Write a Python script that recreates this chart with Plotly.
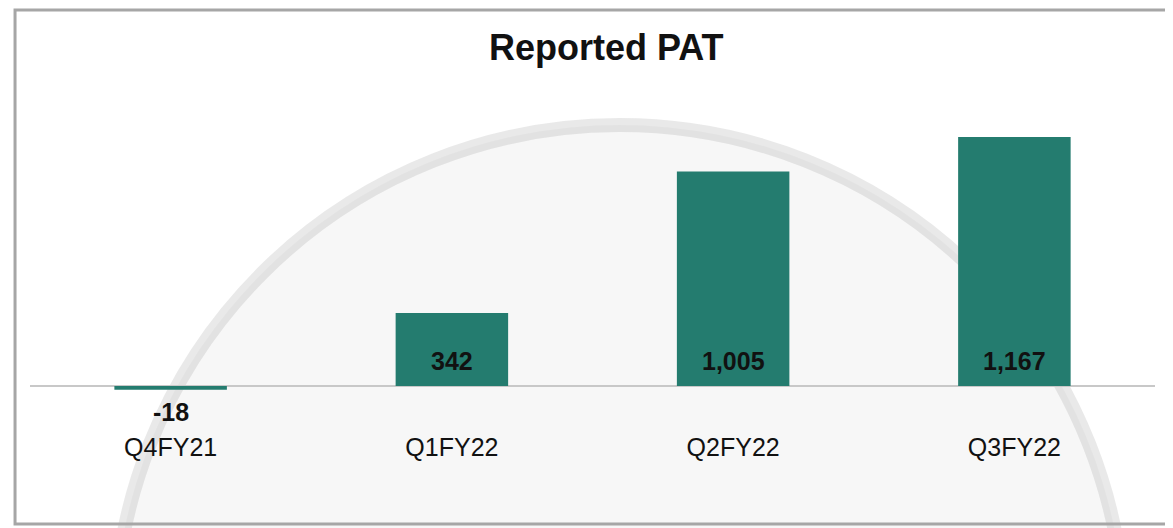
import plotly.graph_objects as go

# data
quarters = ["Q4FY21", "Q1FY22", "Q2FY22", "Q3FY22"]
pat = [-18, 342, 1005, 1167]
pat_labels = ["-18", "342", "1,005", "1,167"]

bar_color = "#247c6f"
font_family = "Arial, Liberation Sans, sans-serif"

fig = go.Figure()
fig.add_trace(go.Bar(
	x=quarters, y=pat,
	marker=dict(color=bar_color, line=dict(width=0)),
	width=0.4,
	hoverinfo="x+y",
))

# value labels sit at the base of each bar (below it when negative)
for q, v, lbl in zip(quarters, pat, pat_labels):
	if v >= 0:
		fig.add_annotation(x=q, y=0, text="<b>%s</b>" % lbl, showarrow=False,
			yanchor="bottom", yshift=9, font=dict(size=25, color="#111111", family=font_family))
	else:
		fig.add_annotation(x=q, y=v, text="<b>%s</b>" % lbl, showarrow=False,
			yanchor="top", yshift=-6, font=dict(size=25, color="#111111", family=font_family))

# faint globe watermark + frame
fig.add_shape(type="circle", xref="paper", yref="paper",
	x0=0.075, x1=0.973, y0=-2.136, y1=0.924,
	line=dict(color="rgba(120,120,120,0.16)", width=14),
	fillcolor="rgba(0,0,0,0.03)", layer="below")
fig.add_shape(type="rect", xref="paper", yref="paper",
	x0=-0.0133, x1=1.05, y0=-0.285, y1=1.273,
	line=dict(color="#a6a6a6", width=3), layer="above")

fig.update_layout(
	width=1173, height=528,
	margin=dict(l=22, r=26, t=92, b=106),
	paper_bgcolor="white", plot_bgcolor="rgba(0,0,0,0)",
	showlegend=False,
	title=dict(text="<b>Reported PAT</b>", x=0.51, xanchor="center", y=0.925, yanchor="middle",
		font=dict(size=36, color="#111111", family=font_family)),
	font=dict(family=font_family),
)
fig.update_xaxes(showgrid=False, showline=False, ticks="",
	tickfont=dict(size=25, color="#111111", family=font_family), ticklabelstandoff=0)
fig.update_yaxes(range=[-206, 1340], showgrid=False, showticklabels=False,
	zeroline=True, zerolinecolor="#c8c8c8", zerolinewidth=2)

fig.write_html("out.html")
